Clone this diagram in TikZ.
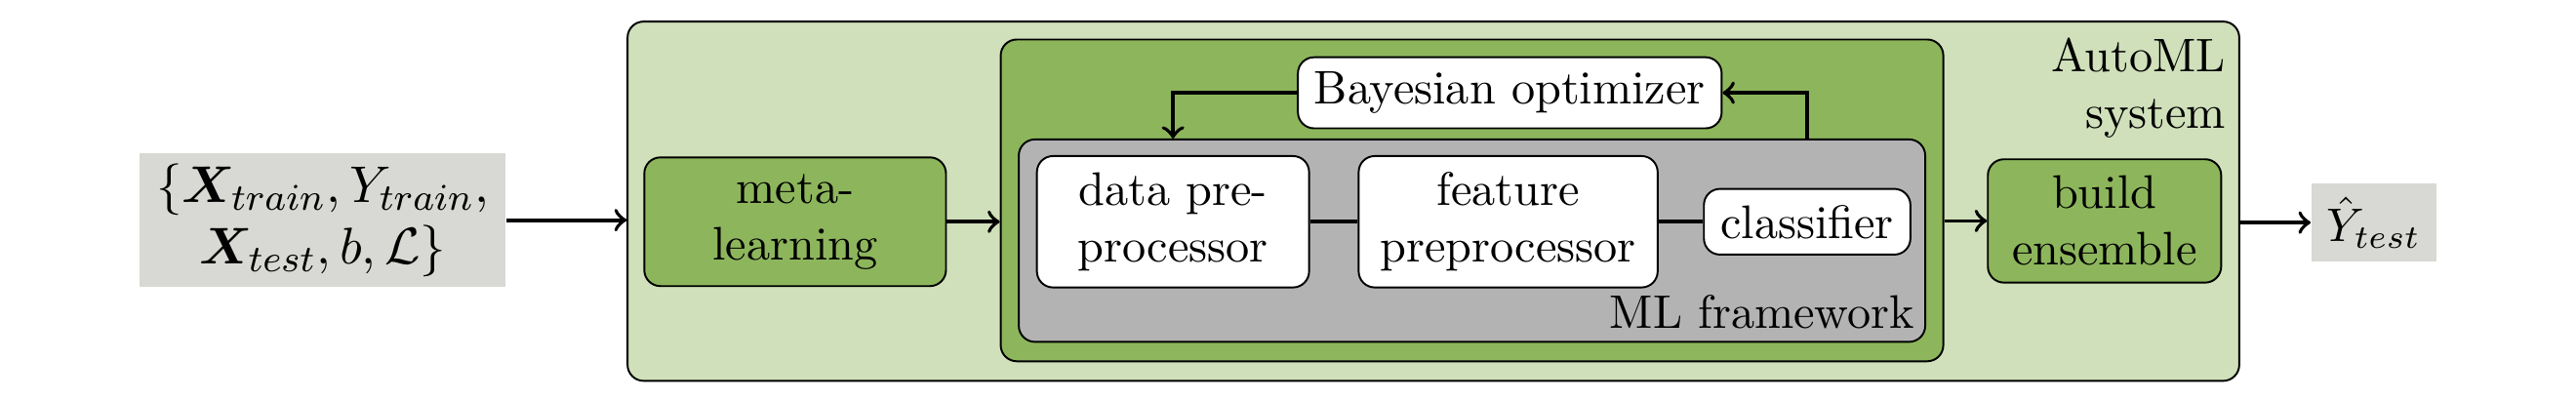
\documentclass[tikz,border=0pt]{standalone}
\usepackage{amsmath}
\usepackage{amssymb}
\usepackage{bm}
\usepackage{tikz}

\definecolor{lightgreen}{RGB}{208,224,186}
\definecolor{darkgreen}{RGB}{141,182,92}
\definecolor{framegray}{RGB}{179,179,179}
\definecolor{iogray}{RGB}{216,217,212}

\begin{document}
\begin{tikzpicture}[x=0.01225cm, y=-0.01225cm,
    box/.style={draw, rounded corners=0.12cm, align=center, inner sep=0pt},
    greenbox/.style={box, fill=darkgreen},
    whitebox/.style={box, fill=white},
    iobox/.style={fill=iogray, align=center, inner sep=0pt},
    conn/.style={thick, ->}]
    \useasboundingbox (0,0) rectangle (1568,244);

    % Input and output
    \node[iobox, font=\fontsize{11}{13}\selectfont, minimum width=2.73cm, minimum height=1.00cm] (inp) at (196.5,134)
        {$\{\bm{X}_{train}, Y_{train},$\\$\bm{X}_{test}, b, \mathcal{L}\}$};
    \node[iobox, minimum width=0.93cm, minimum height=0.58cm] (yhat) at (1445,135.5)
        {$\hat{Y}_{test}$};

    % AutoML system
    \node[box, fill=lightgreen, minimum width=12.02cm, minimum height=2.68cm] (automl) at (872.5,122.5) {};
    \node[anchor=north east, align=right, inner sep=0pt] (automllabel) at ([xshift=-0.1cm, yshift=-0.12cm]automl.north east)
        {AutoML\\system};
    \node[greenbox, minimum width=2.25cm, minimum height=0.96cm] (meta) at (484,135) {meta-\\learning};
    \node[greenbox, minimum width=1.74cm, minimum height=0.92cm] (build) at (1281,134.5) {build\\ensemble};

    % ML framework with optimizer
    \node[greenbox, minimum width=7.03cm, minimum height=2.40cm] (outer) at (896,122) {};
    \node[whitebox, minimum width=3.16cm, minimum height=0.53cm] (bayes) at (919,56.5) {Bayesian optimizer};
    \node[box, fill=framegray, minimum width=6.76cm, minimum height=1.51cm] (mlframe) at (896,146.5) {};
    \node[anchor=south east, inner sep=0pt] (mllabel) at ([xshift=-0.08cm, yshift=0.1cm]mlframe.south east) {ML framework};
    \node[whitebox, minimum width=2.03cm, minimum height=0.98cm] (datapre) at (714,135) {data pre-\\processor};
    \node[whitebox, minimum width=2.23cm, minimum height=0.98cm] (featpre) at (918,135) {feature\\preprocessor};
    \node[whitebox, minimum width=1.54cm, minimum height=0.49cm] (clf) at (1100,135) {classifier};

    % Connectors
    \draw[conn] (inp) -- (automl.west |- inp);
    \draw[conn] (meta) -- (outer.west |- meta);
    \draw[conn] (outer.east |- build) -- (build);
    \draw[conn] (automl.east |- yhat) -- (yhat);
    \draw[thick] (datapre) -- (featpre);
    \draw[thick] (featpre) -- (clf);
    \draw[conn] (bayes.west) -| (datapre |- mlframe.north);
    \draw[conn] (clf |- mlframe.north) |- (bayes.east);
\end{tikzpicture}
\end{document}
